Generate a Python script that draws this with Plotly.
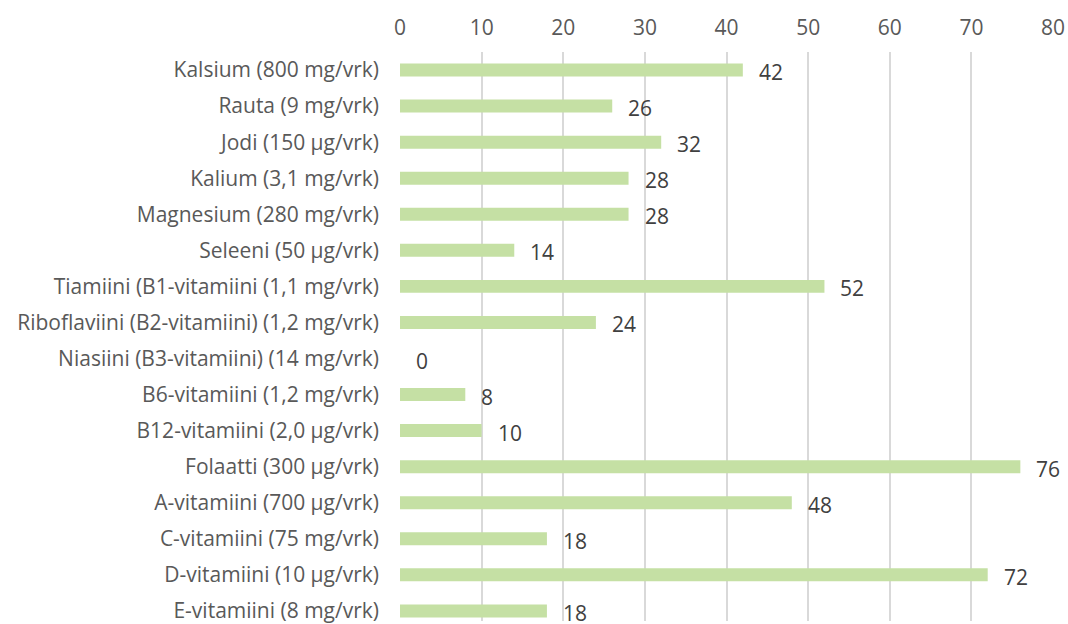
import plotly.graph_objects as go

categories = [
    "Kalsium (800 mg/vrk)",
    "Rauta (9 mg/vrk)",
    "Jodi (150 µg/vrk)",
    "Kalium (3,1 mg/vrk)",
    "Magnesium (280 mg/vrk)",
    "Seleeni (50 µg/vrk)",
    "Tiamiini (B1-vitamiini (1,1 mg/vrk)",
    "Riboflaviini (B2-vitamiini) (1,2 mg/vrk)",
    "Niasiini (B3-vitamiini) (14 mg/vrk)",
    "B6-vitamiini (1,2 mg/vrk)",
    "B12-vitamiini (2,0 µg/vrk)",
    "Folaatti (300 µg/vrk)",
    "A-vitamiini (700 µg/vrk)",
    "C-vitamiini (75 mg/vrk)",
    "D-vitamiini (10 µg/vrk)",
    "E-vitamiini (8 mg/vrk)",
]
values = [42, 26, 32, 28, 28, 14, 52, 24, 0, 8, 10, 76, 48, 18, 72, 18]
x_ticks = [0, 10, 20, 30, 40, 50, 60, 70, 80]

FONT = "Open Sans"
GRAY = "#595959"
LABEL = "#404040"
FS = 21

fig = go.Figure()
fig.add_trace(go.Bar(
    y=categories, x=values, orientation="h",
    marker=dict(color="#C5E0A4", line=dict(width=0)),
    width=0.36,
    hoverinfo="x+y",
))

for c, v in zip(categories, values):
    fig.add_annotation(
        x=v, y=c, text=str(v), showarrow=False,
        xanchor="left", yanchor="middle", xshift=14, yshift=-2,
        font=dict(family=FONT, size=FS, color=LABEL),
    )

fig.update_layout(
    width=1068, height=624,
    margin=dict(l=400, r=15, t=52, b=0),
    paper_bgcolor="white", plot_bgcolor="white",
    showlegend=False,
    font=dict(family=FONT, size=FS, color=GRAY),
)
fig.update_xaxes(
    side="top", range=[0, 80], tickvals=x_ticks,
    showgrid=True, gridcolor="#D9D9D9", gridwidth=2,
    zeroline=False, showline=False, ticks="",
    ticklabelstandoff=12,
    tickfont=dict(family=FONT, size=FS, color=GRAY),
    fixedrange=True,
)
fig.update_yaxes(
    type="category", categoryorder="array", categoryarray=categories,
    range=[15.28, -0.5],
    showgrid=False, zeroline=False, showline=False, ticks="",
    ticklabelstandoff=20,
    tickfont=dict(family=FONT, size=FS, color=GRAY),
    fixedrange=True,
)

fig.write_html("out.html")
